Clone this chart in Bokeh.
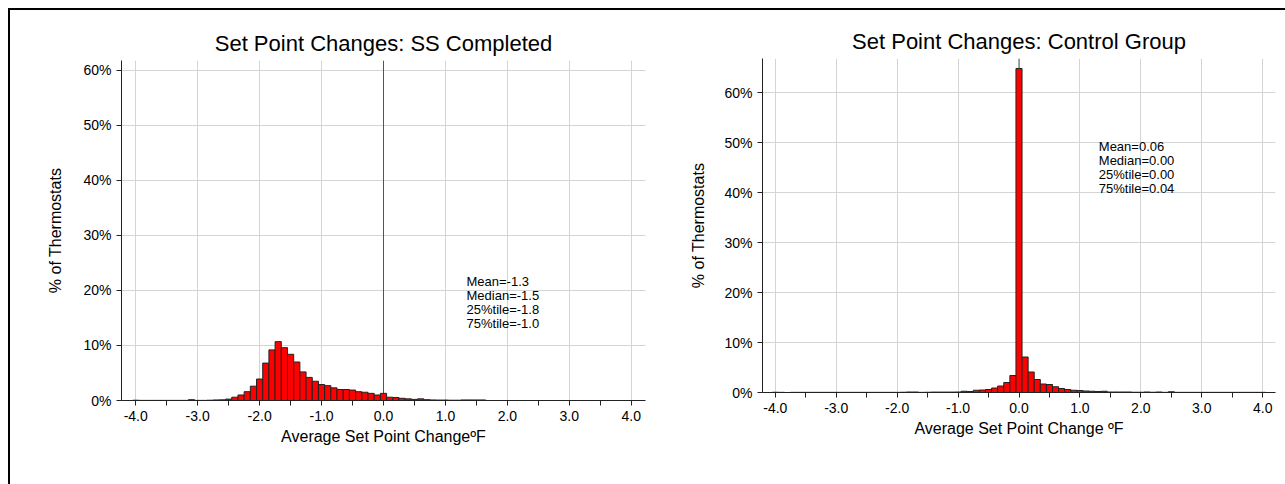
import numpy as np
from bokeh.plotting import figure
from bokeh.models import Span, FixedTicker, PrintfTickFormatter, ColumnDataSource
from bokeh.layouts import row
from bokeh.embed import file_html
from bokeh.resources import INLINE
from bokeh.core.properties import value

# ---------------- data ----------------
bin_centers = [round(-4.0 + 0.1 * i, 1) for i in range(81)]

ss_pct = [0.05, 0.02, 0.02, 0.02, 0.02, 0.02, 0.02, 0.02, 0.02, 0.15,
          0.02, 0.02, 0.05, 0.1, 0.12, 0.25, 0.6, 1.0, 1.6, 2.6,
          3.9, 6.8, 9.2, 10.7, 9.6, 8.4, 7.0, 5.2, 4.2, 3.5,
          2.9, 2.7, 2.3, 2.0, 2.0, 1.9, 1.6, 1.5, 1.3, 1.0,
          1.3, 0.6, 0.55, 0.4, 0.3, 0.2, 0.3, 0.15, 0.1, 0.08,
          0.08, 0.05, 0.05, 0.1, 0.1, 0.1, 0.1] + [0.0] * 24

ctrl_pct = [0.05, 0.03, 0.0, 0.03, 0.03, 0.03, 0.03, 0.03, 0.03, 0.03,
            0.03, 0.03, 0.03, 0.03, 0.03, 0.03, 0.03, 0.03, 0.03, 0.03,
            0.03, 0.05, 0.1, 0.1, 0.03, 0.05, 0.08, 0.08, 0.08, 0.08,
            0.1, 0.25, 0.2, 0.45, 0.5, 0.6, 0.9, 1.3, 2.0, 3.4,
            64.8, 7.1, 4.1, 2.6, 1.7, 1.6, 1.15, 0.8, 0.6, 0.45,
            0.4, 0.3, 0.25, 0.2, 0.25, 0.1, 0.1, 0.1, 0.1, 0.05,
            0.05, 0.1, 0.05, 0.1, 0.03, 0.15, 0.03] + [0.03] * 14

x_ticks = [-4, -3, -2, -1, 0, 1, 2, 3, 4]
y_ticks = [0, 10, 20, 30, 40, 50, 60]

ss_stats = ["Mean=-1.3", "Median=-1.5", "25%tile=-1.8", "75%tile=-1.0"]
ctrl_stats = ["Mean=0.06", "Median=0.00", "25%tile=0.00", "75%tile=0.04"]

FONT = "Liberation Sans"


def make_hist(title, values, stats, stats_xy, xlabel, width, height,
              x_half, y_top, borders, ylab_standoff, title_standoff):
    p = figure(width=width, height=height, output_backend="svg",
               toolbar_location=None, title=title,
               x_range=(-x_half, x_half), y_range=(0, y_top),
               min_border_left=borders[0], min_border_right=borders[1],
               min_border_top=borders[2], min_border_bottom=borders[3])
    p.frame_align = False
    p.outline_line_color = None
    p.background_fill_color = "white"
    p.border_fill_color = "white"

    p.title.align = "center"
    p.title.text_font = FONT
    p.title.text_font_size = "22px"
    p.title.text_font_style = "normal"
    p.title.text_color = "black"
    p.title.standoff = title_standoff

    # grid
    p.xgrid.ticker = FixedTicker(ticks=x_ticks)
    p.ygrid.ticker = FixedTicker(ticks=y_ticks)
    for g in (p.xgrid, p.ygrid):
        g.grid_line_color = "#d4d4d4"
        g.grid_line_width = 1

    # x axis
    xa = p.xaxis[0]
    minor = [t + 0.5 for t in x_ticks[:-1]]
    xa.ticker = FixedTicker(ticks=x_ticks, minor_ticks=minor)
    xa.formatter = PrintfTickFormatter(format="%.1f")
    xa.axis_label = xlabel
    # y axis
    ya = p.yaxis[0]
    ya.ticker = FixedTicker(ticks=y_ticks)
    ya.formatter = PrintfTickFormatter(format="%d%%")
    ya.axis_label = "% of Thermostats"
    for ax in (xa, ya):
        ax.axis_line_color = "#222222"
        ax.major_tick_line_color = "#222222"
        ax.major_tick_in = 0
        ax.major_tick_out = 5
        ax.minor_tick_in = 0
        ax.minor_tick_out = 5
        ax.major_label_text_font = FONT
        ax.major_label_text_font_size = "14px"
        ax.major_label_text_color = "black"
        ax.axis_label_text_font = FONT
        ax.axis_label_text_font_size = "16px"
        ax.axis_label_text_font_style = "normal"
        ax.axis_label_text_color = "black"
        ax.major_label_standoff = 5
    xa.minor_tick_line_color = "#222222"
    ya.minor_tick_line_color = None
    xa.axis_label_standoff = 4
    ya.axis_label_standoff = ylab_standoff

    zero_line = Span(location=0, dimension="height", line_color="#555555",
                     line_width=1, level="underlay")
    p.add_layout(zero_line)

    src = ColumnDataSource(dict(x=bin_centers, top=values))
    p.vbar(x="x", top="top", bottom=0, width=0.1, source=src,
           fill_color="#ff0000", line_color="#222222", line_width=1)

    p.text(x=[stats_xy[0]], y=[stats_xy[1]], text=["\n".join(stats)],
           text_font=value(FONT), text_font_size="13px", text_color="black",
           text_baseline="top", text_align="left", text_line_height=0.93)
    return p


p1 = make_hist("Set Point Changes: SS Completed", ss_pct, ss_stats, (1.34, 23.0),
               "Average Set Point Change\u00baF", 648, 474, 4.23, 61.8,
               (111, 13, 50, 84), 16, 10)
p2 = make_hist("Set Point Changes: Control Group", ctrl_pct, ctrl_stats, (1.31, 50.7),
               "Average Set Point Change \u00baF", 627, 474, 4.21, 66.8,
               (104, 10, 48, 92), 14, 9)

layout = row(p1, p2, styles={"margin": "8px 0 0 8px",
                             "border-top": "2px solid black",
                             "border-left": "2px solid black"})

open("out.html", "w").write(file_html(layout, INLINE))
